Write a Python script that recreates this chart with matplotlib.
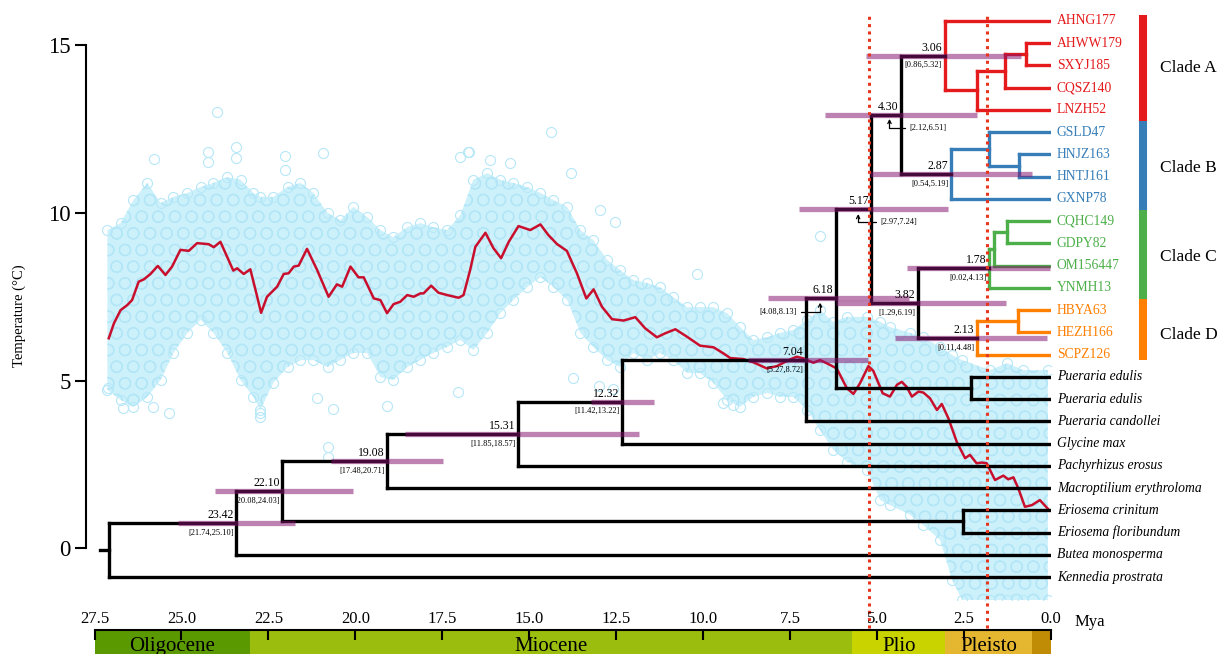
import matplotlib
matplotlib.use('Agg')
import matplotlib.pyplot as plt
from matplotlib.transforms import offset_copy, blended_transform_factory

plt.rcParams['font.family'] = ['Liberation Serif', 'DejaVu Serif']
plt.rcParams['hatch.linewidth'] = 0.8

# ---- tree -------------------------------------------------------------
# tips from top to bottom
tip_names = ['AHNG177', 'AHWW179', 'SXYJ185', 'CQSZ140', 'LNZH52',
             'GSLD47', 'HNJZ163', 'HNTJ161', 'GXNP78',
             'CQHC149', 'GDPY82', 'OM156447', 'YNMH13',
             'HBYA63', 'HEZH166', 'SCPZ126',
             'Pueraria edulis', 'Pueraria edulis', 'Pueraria candollei',
             'Glycine max', 'Pachyrhizus erosus', 'Macroptilium erythroloma',
             'Eriosema crinitum', 'Eriosema floribundum', 'Butea monosperma',
             'Kennedia prostrata']
first_outgroup = 16

# internal nodes: children (ints are tip indices) and age in Mya
children = {
    'a4': [1, 2], 'a3': ['a4', 3], 'a2': ['a3', 4], 'A': [0, 'a2'],
    'b2': [6, 7], 'b1': [5, 'b2'], 'B': ['b1', 8],
    'n430': ['A', 'B'],
    'c2': [9, 10], 'c1': ['c2', 11], 'C': ['c1', 12],
    'd1': [13, 14], 'D': ['d1', 15],
    'n382': ['C', 'D'],
    'n517': ['n430', 'n382'],
    'pe': [16, 17],
    'n618': ['n517', 'pe'],
    'n704': ['n618', 18],
    'n1232': ['n704', 19],
    'n1531': ['n1232', 20],
    'n1908': ['n1531', 21],
    'er': [22, 23],
    'n2210': ['n1908', 'er'],
    'n2342': ['n2210', 24],
    'root': ['n2342', 25],
}
node_age = {
    'a4': 0.72, 'a3': 1.32, 'a2': 2.14, 'A': 3.06,
    'b2': 0.91, 'b1': 1.79, 'B': 2.87,
    'n430': 4.30,
    'c2': 1.27, 'c1': 1.63, 'C': 1.78,
    'd1': 0.96, 'D': 2.13,
    'n382': 3.82, 'n517': 5.17, 'pe': 2.30, 'n618': 6.18, 'n704': 7.04,
    'n1232': 12.32, 'n1531': 15.31, 'n1908': 19.08, 'er': 2.53,
    'n2210': 22.10, 'n2342': 23.42, 'root': 27.07,
}
root_stem_age = 27.33

# 95% HPD of the dated nodes
node_hpd = {
    'A': (0.86, 5.32), 'n430': (2.12, 6.51), 'B': (0.54, 5.19),
    'n517': (2.97, 7.24), 'C': (0.02, 4.13), 'n618': (4.08, 8.13),
    'n382': (1.29, 6.19), 'D': (0.11, 4.48), 'n704': (5.27, 8.72),
    'n1232': (11.42, 13.22), 'n1531': (11.85, 18.57), 'n1908': (17.48, 20.71),
    'n2210': (20.08, 24.03), 'n2342': (21.74, 25.10),
}

clade_names = ['Clade A', 'Clade B', 'Clade C', 'Clade D']
clade_roots = ['A', 'B', 'C', 'D']
clade_colors = ['#e41a1c', '#377eb8', '#4daf4a', '#ff7f00']
clade_tips = [(0, 4), (5, 8), (9, 12), (13, 15)]

# ---- temperature --------------------------------------------------------
curve_age = [27.09, 26.94, 26.75, 26.56, 26.42, 26.23, 26.08, 25.89, 25.68, 25.46,
             25.27, 25.03, 24.79, 24.55, 24.22, 24.07, 23.88, 23.69, 23.51, 23.40,
             23.21, 23.02, 22.87, 22.71, 22.54, 22.25, 22.06, 21.92, 21.77, 21.63,
             21.39, 21.10, 20.77, 20.53, 20.38, 20.14, 19.91, 19.76, 19.47, 19.28,
             19.09, 18.90, 18.71, 18.51, 18.32, 18.13, 18.04, 17.82, 17.61, 17.36,
             17.03, 16.89, 16.70, 16.55, 16.26, 16.03, 15.81, 15.59, 15.31, 14.97,
             14.68, 14.45, 14.20, 13.92, 13.63, 13.36, 13.15, 12.91, 12.62, 12.29,
             11.95, 11.67, 11.33, 11.09, 10.80, 10.47, 10.09, 9.70, 9.42, 9.22,
             8.84, 8.55, 8.17, 7.88, 7.50, 7.31, 7.12, 6.83, 6.64, 6.40,
             6.16, 5.87, 5.68, 5.49, 5.25, 5.11, 4.84, 4.63, 4.43, 4.29,
             4.15, 4.00, 3.81, 3.67, 3.48, 3.28, 3.14, 2.95, 2.71, 2.47,
             2.33, 2.14, 1.99, 1.85, 1.61, 1.37, 1.23, 1.08, 0.94, 0.75,
             0.55, 0.32, 0.08]
curve_temp = [6.26, 6.71, 7.10, 7.25, 7.40, 7.95, 8.02, 8.18, 8.42, 8.15,
              8.40, 8.90, 8.87, 9.10, 9.07, 8.98, 9.14, 8.70, 8.28, 8.35,
              8.18, 8.32, 7.70, 7.02, 7.50, 7.80, 8.18, 8.20, 8.40, 8.43,
              8.93, 8.30, 7.50, 7.87, 7.80, 8.40, 8.08, 8.08, 7.45, 7.40,
              7.01, 7.28, 7.35, 7.55, 7.50, 7.60, 7.60, 7.83, 7.62, 7.55,
              7.47, 7.55, 8.30, 8.99, 9.41, 8.95, 8.65, 9.14, 9.61, 9.49,
              9.66, 9.34, 9.07, 8.87, 8.20, 7.45, 7.72, 7.20, 6.83, 6.79,
              6.89, 6.56, 6.29, 6.41, 6.53, 6.31, 6.04, 5.99, 5.81, 5.67,
              5.64, 5.54, 5.36, 5.43, 5.63, 5.71, 5.66, 5.53, 5.61, 5.49,
              5.36, 4.77, 4.60, 4.92, 5.43, 5.29, 4.62, 4.52, 4.87, 4.96,
              4.81, 4.52, 4.67, 4.64, 4.47, 4.12, 4.30, 3.87, 3.17, 2.68,
              2.78, 2.53, 2.55, 2.53, 2.03, 2.16, 2.05, 2.11, 1.78, 1.23,
              1.28, 1.43, 1.16]

# extent of the dense cloud of temperature records
cloud_age = [27.13, 26.75, 26.38, 25.98, 25.60, 25.23, 24.83, 24.45, 24.08, 23.68,
             23.30, 22.93, 22.73, 22.36, 21.95, 21.58, 21.21, 20.80, 20.43, 20.06,
             19.66, 19.28, 18.91, 18.51, 18.13, 17.76, 17.36, 16.98, 16.61, 16.21,
             15.83, 15.46, 15.06, 14.68, 14.31, 13.91, 13.53, 13.16, 12.76, 12.39,
             12.01, 11.61, 11.24, 10.86, 10.46, 10.09, 9.71, 9.31, 8.94, 8.56,
             8.16, 7.79, 7.41, 7.01, 6.64, 6.26, 5.86, 5.29, 4.91, 4.63,
             4.05, 3.68, 3.19, 2.84, 2.56, 1.75, 1.26, 0.80, 0.09]
cloud_hi = [9.49, 9.70, 10.39, 10.90, 10.30, 10.48, 10.60, 10.78, 10.90, 11.07,
            10.99, 10.60, 10.48, 10.48, 10.78, 10.90, 10.60, 10.00, 9.79, 10.18,
            9.88, 9.49, 9.28, 9.58, 9.70, 9.58, 9.49, 9.94, 10.99, 11.19,
            10.99, 10.90, 10.78, 10.60, 10.39, 10.18, 9.49, 9.19, 8.60, 8.30,
            8.00, 7.91, 7.79, 7.49, 7.19, 7.19, 7.19, 7.01, 6.60, 6.21,
            6.30, 6.42, 6.51, 6.81, 7.10, 6.75, 6.90, 6.90, 6.75, 6.60,
            6.42, 6.30, 6.00, 5.76, 5.61, 5.31, 5.52, 5.31, 5.31]
cloud_lo = [4.72, 4.42, 4.21, 4.51, 5.01, 5.82, 6.42, 6.81, 6.42, 5.82,
            5.01, 4.51, 4.12, 4.93, 5.40, 5.61, 5.61, 5.40, 5.61, 5.82,
            5.82, 5.10, 5.01, 5.40, 5.61, 5.82, 6.00, 6.21, 5.91, 6.42,
            7.01, 7.40, 7.79, 8.09, 7.79, 7.40, 6.42, 6.00, 5.61, 5.40,
            5.82, 5.61, 5.82, 5.61, 5.22, 5.22, 4.93, 4.42, 4.21, 4.51,
            4.63, 4.51, 4.51, 4.12, 3.52, 2.93, 2.57, 2.33, 1.43, 1.28,
            0.99, 0.69, 0.24, -0.96, -1.55, -1.55, -1.55, -1.55, -1.55]

# scattered records outside the dense cloud
stray_age = [23.97, 23.42, 23.42, 24.25, 24.25, 25.78, 22.01, 22.01, 20.92, 16.75,
             16.98, 14.37, 12.96, 12.53, 10.17, 6.64, 16.72, 16.12, 15.55, 13.79,
             26.67, 25.83, 25.37, 22.73, 22.73, 20.63, 19.08, 21.09, 17.04, 27.10,
             20.78, 20.80, 13.74, 9.14, 9.43, 13.00, 12.60]
stray_temp = [13.01, 11.97, 11.64, 11.82, 11.52, 11.61, 11.70, 11.28, 11.79, 11.82,
              11.67, 12.42, 10.09, 9.73, 8.18, 9.31, 11.82, 11.58, 11.49, 11.19,
              4.18, 4.21, 4.03, 4.03, 3.91, 4.15, 4.24, 4.48, 4.66, 4.78,
              3.01, 2.72, 5.07, 4.27, 4.33, 4.85, 4.75]

# ---- time scale ---------------------------------------------------------
epoch_names = ['Oligocene', 'Miocene', 'Plio', 'Pleisto', '']
epoch_start = [27.5, 23.03, 5.71, 3.04, 0.56]
epoch_end = [23.03, 5.71, 3.04, 0.56, 0.0]
epoch_colors = ['#5b9900', '#9bbd0e', '#c8d300', '#e5b731', '#c18c05']
time_ticks = [27.5, 25.0, 22.5, 20.0, 17.5, 15.0, 12.5, 10.0, 7.5, 5.0, 2.5, 0.0]
marker_ages = [5.23, 1.84]

# ---- figure -------------------------------------------------------------
W, H = 1229, 654
fig = plt.figure(figsize=(W / 100, H / 100), dpi=100)
ax = fig.add_axes([94.5 / W, 54 / H, 956.5 / W, 600 / H])
ax.set_xlim(27.5, 0)
ax.set_ylim(-1.552, 16.358)

for s in ['top', 'right', 'bottom']:
    ax.spines[s].set_visible(False)
ax.spines['left'].set_bounds(0, 15)
ax.spines['left'].set_position(('outward', 6.1))
ax.spines['left'].set_linewidth(1.5)
ax.set_xticks([])
ax.set_yticks([0, 5, 10, 15])
ax.tick_params(axis='y', length=8, width=1.5, labelsize=16.5, pad=3)

blue_edge = '#b6e8f8'
ax.fill_between(cloud_age, cloud_lo, cloud_hi, facecolor='#cdf1fb',
                edgecolor='#b2e6f7', hatch='O', lw=0, zorder=1)
ax.plot(cloud_age, cloud_hi, 'o', mfc='none', mec=blue_edge, ms=7.2, mew=0.8, zorder=1)
ax.plot(cloud_age, cloud_lo, 'o', mfc='none', mec=blue_edge, ms=7.2, mew=0.8, zorder=1)
ax.plot(stray_age, stray_temp, 'o', mfc='none', mec=blue_edge, ms=7.2, mew=0.8, zorder=1)
ax.plot(curve_age, curve_temp, color='#c8102e', lw=1.8, solid_joinstyle='round', zorder=2)

fig.text(19 / W, 1 - 316 / H, 'Temperature (°C)', rotation=90,
         ha='center', va='center', fontsize=10.5)

# tree drawn on a twin axis whose y unit is one tip
tr = ax.twinx()
tr.set_ylim(26.034, -0.944)
tr.set_axis_off()


def is_tip(n):
    return isinstance(n, int)


node_y = {}


def place(n):
    if is_tip(n):
        return float(n)
    ys = [place(c) for c in children[n]]
    node_y[n] = sum(ys) / len(ys)
    return node_y[n]


place('root')

node_color = {}


def paint(n, color):
    node_color[n] = color
    if not is_tip(n):
        for c in children[n]:
            paint(c, color)


paint('root', 'black')
for r, col in zip(clade_roots, clade_colors):
    paint(r, col)


def y_of(n):
    return float(n) if is_tip(n) else node_y[n]


def age_of(n):
    return 0.0 if is_tip(n) else node_age[n]


lw_tree = 2.4
for n, kids in children.items():
    ys = [y_of(k) for k in kids]
    col = node_color[n]
    tr.plot([node_age[n]] * 2, [min(ys), max(ys)], color=col, lw=lw_tree,
            solid_capstyle='projecting', zorder=3)
    for k in kids:
        tr.plot([node_age[n], age_of(k)], [y_of(k)] * 2, color=col, lw=lw_tree,
                solid_capstyle='projecting', zorder=3)
tr.plot([root_stem_age, node_age['root']], [node_y['root']] * 2, color='black',
        lw=lw_tree, zorder=3)

# HPD bars and node labels
moved = {
    'n430': ((-8.6, -2.9), (14.4, -6.5), 'left'),
    'n517': ((-9.4, -3.6), (15.8, -5.8), 'left'),
    'n618': ((-11.5, -2.9), (-16.6, -6.5), 'right'),
}
for n, (lo, hi) in node_hpd.items():
    a, y = node_age[n], node_y[n]
    tr.plot([lo, hi], [y, y], color='#84136f', alpha=0.53, lw=3.8,
            solid_capstyle='butt', zorder=4)
    tr.annotate(f'{a:.2f}', (a, y), xytext=(-2, 3.6), textcoords='offset points',
                ha='right', va='baseline', fontsize=8.5, zorder=6)
    interval = f'[{lo:.2f},{hi:.2f}]'
    if n in moved:
        (dx, dy), (tx, ty), ha = moved[n]
        tip_tr = offset_copy(tr.transData, fig=fig, x=dx, y=dy, units='points')
        tr.annotate(interval, (a, y), xycoords=tip_tr, xytext=(tx, ty),
                    textcoords='offset points', ha=ha, va='center', fontsize=6,
                    zorder=6,
                    arrowprops=dict(arrowstyle='->', lw=0.9, color='black',
                                    shrinkA=1, shrinkB=0, mutation_scale=6,
                                    connectionstyle='angle,angleA=0,angleB=90,rad=0'))
    else:
        tr.annotate(interval, (a, y), xytext=(-2, -4), textcoords='offset points',
                    ha='right', va='top', fontsize=6, zorder=6)

# tip labels
tip_color = ['black'] * len(tip_names)
for (i0, i1), col in zip(clade_tips, clade_colors):
    for i in range(i0, i1 + 1):
        tip_color[i] = col
for i, name in enumerate(tip_names):
    tr.annotate(name, (0, i), xytext=(4.3, 0), textcoords='offset points',
                ha='left', va='center', fontsize=9.8, color=tip_color[i],
                style='italic' if i >= first_outgroup else 'normal',
                annotation_clip=False)

# clade bars on the right
bt = blended_transform_factory(tr.transAxes, tr.transData)
for k, ((i0, i1), col, name) in enumerate(zip(clade_tips, clade_colors, clade_names)):
    top = i0 - 0.27 if k == 0 else i0 - 0.5
    bot = i1 + 0.25 if k == len(clade_tips) - 1 else i1 + 0.5
    tr.plot([1.0962, 1.0962], [top, bot], color=col, lw=5.8,
            solid_capstyle='butt', transform=bt, clip_on=False)
    tr.text(1.1135, (i0 + i1) / 2 + 0.1, name, transform=bt, ha='left',
            va='center', fontsize=12.5)

for a in marker_ages:
    tr.axvline(a, ymin=-28 / 600, ymax=1 - 13 / 600, clip_on=False,
               color='#e8351e', lw=2.2, linestyle=(0, (1, 1.4)), zorder=7)

# geological time scale
gx = fig.add_axes([94.5 / W, 0, 956.5 / W, 24 / H])
gx.set_xlim(27.5, 0)
gx.set_ylim(0, 1)
for name, s, e, col in zip(epoch_names, epoch_start, epoch_end, epoch_colors):
    gx.axvspan(s, e, color=col, lw=0)
    gx.text((s + e) / 2, 0.3, name, ha='center', va='center', fontsize=15)
for s in ['bottom', 'left', 'right']:
    gx.spines[s].set_visible(False)
gx.spines['top'].set_linewidth(1.5)
gx.xaxis.tick_top()
gx.set_xticks(time_ticks)
gx.set_xticklabels([f'{t:.1f}' for t in time_ticks])
gx.set_yticks([])
gx.tick_params(axis='x', direction='in', length=7.5, width=1.5, labelsize=12, pad=2)
fig.text(1075 / W, 1 - 622 / H, 'Mya', ha='left', va='center', fontsize=12)

fig.savefig('out.png', dpi=100)
